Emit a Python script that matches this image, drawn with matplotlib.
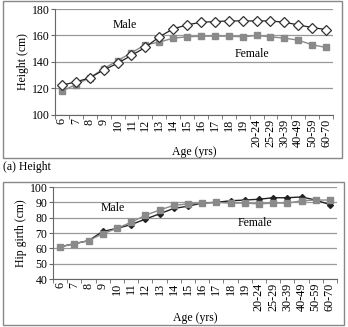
import matplotlib
matplotlib.use("Agg")
import matplotlib.pyplot as plt
from matplotlib.patches import Rectangle

plt.rcParams['font.family'] = ['Liberation Serif', 'DejaVu Serif']

ages = ["6", "7", "8", "9", "10", "11", "12", "13", "14", "15", "16", "17", "18", "19",
        "20-24", "25-29", "30-39", "40-49", "50-59", "60-70"]

height_male = [122.5, 125, 128, 134, 139, 145, 151, 159, 165, 168, 170, 170.5, 171, 171,
               171, 171, 170, 168, 166, 164.5]
height_female = [118, 123, 128, 135, 141, 147, 153, 155, 158, 159, 159.5, 159.5, 159.5, 159,
                 160, 159, 158, 156.5, 153, 151]

hip_male = [61, 63, 65, 71, 73, 75.5, 79, 82.5, 86, 87.5, 89.5, 90, 91, 91.5,
            92, 93, 93, 93.5, 91.5, 88.5]
hip_female = [61, 63, 65, 69.5, 73, 77, 81.5, 85, 88, 89, 89.5, 90, 89.5, 89.5,
              89, 89.5, 89.5, 91, 91.5, 91.5]

W, H = 348, 327
fig = plt.figure(figsize=(W / 100, H / 100), dpi=100)

def px(x0, y0, x1, y1):
    return [x0 / W, 1 - y1 / H, (x1 - x0) / W, (y1 - y0) / H]

# cadres des deux panneaux
fig.patches.append(Rectangle((3 / W, 1 - 158 / H), 339 / W, 157 / H, transform=fig.transFigure,
                             fill=False, ec='#888888', lw=1))
fig.patches.append(Rectangle((3 / W, 1 - 325 / H), 341 / W, 143 / H, transform=fig.transFigure,
                             fill=False, ec='#888888', lw=1))

x = list(range(len(ages)))

def style(ax, lo, hi, step, ylabel, xlab_y):
    ax.set_xlim(-0.5, len(ages) - 0.5)
    ax.set_ylim(lo, hi)
    ax.set_yticks(range(lo, hi + 1, step))
    ax.set_xticks(x)
    ax.set_xticklabels(ages, rotation=90, fontsize=8.7)
    ax.set_xticks([i - 0.5 for i in range(len(ages) + 1)], minor=True)
    ax.tick_params(axis='x', which='major', length=0, pad=2.5)
    ax.tick_params(axis='x', which='minor', length=3, color='#666666')
    ax.tick_params(axis='y', labelsize=8.5, length=3, color='#666666', pad=1)
    ax.grid(axis='y', color='#999999', lw=0.9)
    ax.set_axisbelow(True)
    for s in ['top', 'right']:
        ax.spines[s].set_visible(False)
    for s in ['left', 'bottom']:
        ax.spines[s].set_color('#666666')
    ax.set_xlabel("Age (yrs)", fontsize=8.5)
    ax.xaxis.set_label_coords(0.5, xlab_y)
    ax.set_ylabel(ylabel, fontsize=8.5, labelpad=2)

ax1 = fig.add_axes(px(55, 9, 333, 115))
ax1.plot(x, height_female, color='#8a8a8a', lw=1, marker='s', ms=5, mfc='#8a8a8a', mec='#8a8a8a')
ax1.plot(x, height_male, color='#222222', lw=0.9, marker='D', ms=5.5, mfc='white', mec='#333333', mew=0.9)
style(ax1, 100, 180, 20, "Height (cm)", -0.29)
ax1.text(4.5, 168, "Male", fontsize=8.5, ha='center', va='center')
ax1.text(13.7, 146, "Female", fontsize=8.5, ha='center', va='center')

fig.text(3 / W, 1 - 167 / H, "(a) Height", fontsize=8.5, va='center')

ax2 = fig.add_axes(px(53, 187, 337, 279))
ax2.plot(x, hip_male, color='#222222', lw=1, marker='D', ms=3, mfc='#222222', mec='#222222')
ax2.plot(x, hip_female, color='#8a8a8a', lw=1, marker='s', ms=5, mfc='#8a8a8a', mec='#8a8a8a')
style(ax2, 40, 100, 10, "Hip girth (cm)", -0.36)
ax2.text(3.7, 86, "Male", fontsize=8.5, ha='center', va='center')
ax2.text(13.7, 76.5, "Female", fontsize=8.5, ha='center', va='center')

fig.savefig("out.png", dpi=100)
